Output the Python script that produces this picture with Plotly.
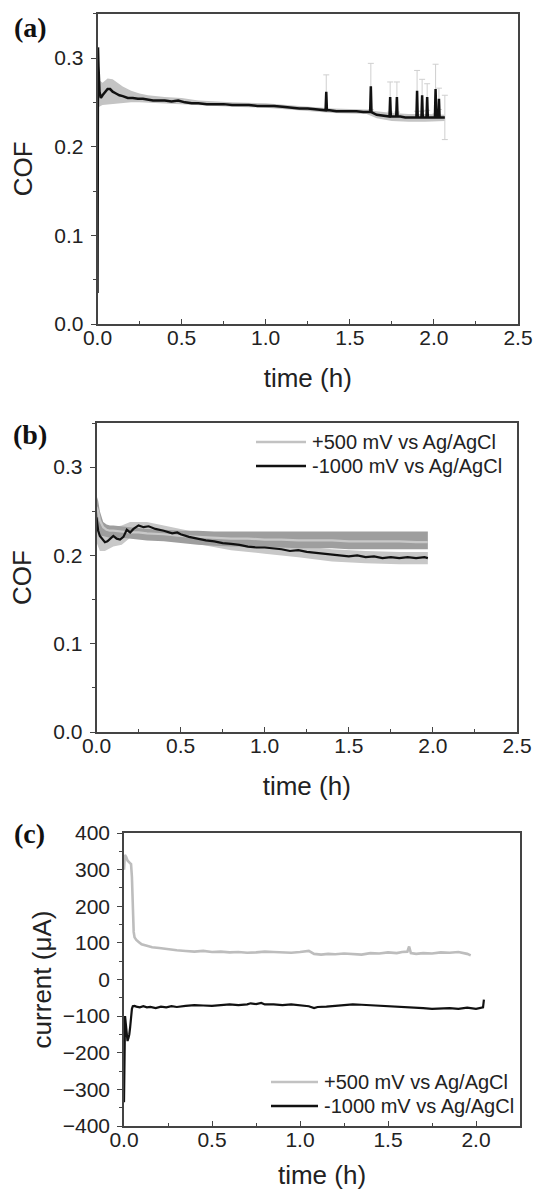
import plotly.graph_objects as go

W, H = 538, 1190
FONT = "Liberation Sans, Arial, sans-serif"
SERIF = "Liberation Serif, Times New Roman, serif"

# ---------------- Panel (a): COF vs time ----------------
t_a = [0.000, 0.003, 0.006, 0.012, 0.020, 0.030, 0.045, 0.060, 0.075, 0.090, 0.110, 0.130,
       0.150, 0.180, 0.210, 0.240, 0.270, 0.300, 0.330, 0.360, 0.400, 0.440, 0.480, 0.520,
       0.560, 0.600, 0.650, 0.700, 0.750, 0.800, 0.850, 0.900, 0.950, 1.000, 1.050, 1.100,
       1.150, 1.200, 1.250, 1.300, 1.340, 1.356, 1.360, 1.364, 1.380, 1.420, 1.460, 1.500,
       1.540, 1.580, 1.621, 1.625, 1.629, 1.660, 1.690, 1.720, 1.736, 1.740, 1.744, 1.776,
       1.780, 1.784, 1.800, 1.830, 1.860, 1.896, 1.900, 1.904, 1.926, 1.930, 1.934, 1.956,
       1.960, 1.964, 1.985, 2.006, 2.010, 2.014, 2.026, 2.030, 2.034, 2.050, 2.065]
cof_a = [0.035, 0.312, 0.290, 0.262, 0.255, 0.258, 0.262, 0.265, 0.265, 0.262, 0.260, 0.258,
         0.257, 0.255, 0.255, 0.254, 0.254, 0.253, 0.252, 0.252, 0.252, 0.251, 0.252, 0.250,
         0.249, 0.249, 0.248, 0.248, 0.248, 0.247, 0.247, 0.247, 0.246, 0.246, 0.246, 0.245,
         0.244, 0.243, 0.243, 0.242, 0.241, 0.241, 0.262, 0.241, 0.241, 0.240, 0.240, 0.240,
         0.240, 0.239, 0.239, 0.268, 0.239, 0.236, 0.235, 0.234, 0.234, 0.256, 0.234, 0.234,
         0.256, 0.234, 0.234, 0.233, 0.233, 0.233, 0.263, 0.233, 0.233, 0.258, 0.233, 0.233,
         0.256, 0.233, 0.233, 0.233, 0.265, 0.233, 0.233, 0.254, 0.233, 0.233, 0.233]
# standard-deviation band of (a)
t_band_a = [0.003, 0.010, 0.030, 0.060, 0.090, 0.120, 0.150, 0.200, 0.250, 0.300, 0.400, 0.500,
            0.600, 0.800, 1.000, 1.200, 1.400, 1.600, 1.660, 1.750, 1.850, 1.950, 2.065]
band_hi_a = [0.300, 0.275, 0.272, 0.277, 0.276, 0.272, 0.268, 0.263, 0.260, 0.258, 0.256, 0.255,
             0.252, 0.250, 0.249, 0.246, 0.243, 0.242, 0.240, 0.238, 0.237, 0.237, 0.236]
band_lo_a = [0.245, 0.245, 0.247, 0.248, 0.248, 0.249, 0.249, 0.250, 0.250, 0.250, 0.249, 0.248,
             0.247, 0.245, 0.244, 0.241, 0.238, 0.237, 0.232, 0.229, 0.228, 0.228, 0.229]
# error bars at the friction spikes
t_err_a = [1.360, 1.625, 1.740, 1.780, 1.900, 1.930, 1.960, 2.010, 2.030, 2.065]
cof_err_a = [0.262, 0.268, 0.256, 0.256, 0.263, 0.258, 0.256, 0.265, 0.254, 0.233]
err_a = [0.019, 0.026, 0.017, 0.017, 0.023, 0.018, 0.015, 0.028, 0.012, 0.025]

# ---------------- Panel (b): COF vs time, two potentials ----------------
names = ["+500 mV vs Ag/AgCl", "-1000 mV vs Ag/AgCl"]

t_b_pos = [0.000, 0.010, 0.020, 0.040, 0.060, 0.080, 0.100, 0.150, 0.200, 0.250, 0.300, 0.400,
           0.500, 0.600, 0.700, 0.800, 0.900, 1.000, 1.100, 1.200, 1.300, 1.400, 1.500, 1.600,
           1.700, 1.800, 1.900, 1.970]
cof_b_pos = [0.255, 0.250, 0.240, 0.232, 0.229, 0.228, 0.228, 0.227, 0.226, 0.226, 0.225, 0.224,
             0.222, 0.221, 0.220, 0.219, 0.219, 0.218, 0.218, 0.217, 0.217, 0.217, 0.216, 0.216,
             0.216, 0.216, 0.215, 0.215]
band_hi_b_pos = [0.268, 0.262, 0.250, 0.238, 0.235, 0.234, 0.234, 0.233, 0.232, 0.231, 0.230, 0.229,
                 0.228, 0.228, 0.227, 0.227, 0.227, 0.227, 0.227, 0.227, 0.227, 0.227, 0.227, 0.227,
                 0.227, 0.227, 0.227, 0.227]
band_lo_b_pos = [0.232, 0.225, 0.222, 0.222, 0.221, 0.220, 0.220, 0.220, 0.219, 0.218, 0.217, 0.216,
                 0.214, 0.212, 0.211, 0.210, 0.210, 0.209, 0.209, 0.208, 0.208, 0.208, 0.207, 0.207,
                 0.207, 0.207, 0.207, 0.207]

t_b_neg = [0.000, 0.010, 0.020, 0.035, 0.050, 0.065, 0.080, 0.100, 0.120, 0.140, 0.160, 0.180,
           0.200, 0.220, 0.250, 0.280, 0.310, 0.350, 0.400, 0.450, 0.480, 0.500, 0.550, 0.600,
           0.650, 0.700, 0.750, 0.800, 0.850, 0.900, 0.950, 1.000, 1.050, 1.100, 1.150, 1.200,
           1.250, 1.300, 1.350, 1.400, 1.450, 1.500, 1.550, 1.600, 1.650, 1.700, 1.750, 1.800,
           1.850, 1.900, 1.950, 1.970]
cof_b_neg = [0.243, 0.228, 0.222, 0.218, 0.215, 0.216, 0.219, 0.222, 0.219, 0.218, 0.221, 0.229,
             0.226, 0.230, 0.234, 0.232, 0.233, 0.230, 0.228, 0.225, 0.226, 0.224, 0.221, 0.219,
             0.217, 0.216, 0.214, 0.213, 0.212, 0.210, 0.209, 0.209, 0.208, 0.207, 0.205, 0.206,
             0.204, 0.203, 0.202, 0.201, 0.200, 0.199, 0.200, 0.198, 0.199, 0.197, 0.198, 0.197,
             0.198, 0.197, 0.198, 0.197]
t_band_b_neg = [0.000, 0.020, 0.050, 0.100, 0.150, 0.200, 0.300, 0.400, 0.500, 0.600, 0.800, 1.000,
                1.200, 1.400, 1.600, 1.800, 1.970]
band_hi_b_neg = [0.265, 0.240, 0.232, 0.232, 0.234, 0.238, 0.238, 0.234, 0.230, 0.226, 0.220, 0.215,
                 0.211, 0.207, 0.205, 0.204, 0.204]
band_lo_b_neg = [0.215, 0.205, 0.205, 0.210, 0.212, 0.220, 0.224, 0.220, 0.218, 0.213, 0.206, 0.202,
                 0.198, 0.193, 0.191, 0.190, 0.190]

# ---------------- Panel (c): current vs time ----------------
t_c_pos = [0.000, 0.005, 0.012, 0.020, 0.030, 0.040, 0.045, 0.050, 0.055, 0.060, 0.070, 0.085,
           0.100, 0.130, 0.160, 0.200, 0.250, 0.300, 0.350, 0.400, 0.450, 0.500, 0.550, 0.600,
           0.650, 0.700, 0.750, 0.800, 0.850, 0.900, 0.950, 1.000, 1.050, 1.080, 1.120, 1.160,
           1.200, 1.250, 1.300, 1.350, 1.400, 1.450, 1.500, 1.550, 1.580, 1.610, 1.620, 1.630,
           1.660, 1.700, 1.750, 1.800, 1.850, 1.900, 1.950, 1.970]
i_c_pos = [300, 340, 335, 325, 320, 315, 280, 200, 130, 115, 108, 102,
           96, 92, 88, 86, 82, 80, 78, 76, 78, 75, 76, 74,
           75, 73, 74, 76, 75, 74, 73, 75, 78, 70, 68, 70,
           69, 71, 70, 68, 72, 71, 74, 72, 75, 76, 90, 72,
           70, 72, 71, 74, 73, 75, 70, 66]

t_c_neg = [0.000, 0.003, 0.006, 0.010, 0.015, 0.020, 0.025, 0.030, 0.035, 0.040, 0.045, 0.050,
           0.060, 0.070, 0.090, 0.110, 0.130, 0.150, 0.180, 0.210, 0.240, 0.270, 0.300, 0.350,
           0.400, 0.450, 0.500, 0.550, 0.600, 0.650, 0.700, 0.720, 0.750, 0.780, 0.800, 0.850,
           0.900, 0.950, 1.000, 1.050, 1.080, 1.100, 1.150, 1.200, 1.250, 1.300, 1.350, 1.400,
           1.450, 1.500, 1.550, 1.600, 1.650, 1.700, 1.750, 1.800, 1.850, 1.900, 1.950, 2.000,
           2.030, 2.040, 2.045]
i_c_neg = [-335, -150, -100, -120, -160, -168, -160, -150, -130, -100, -80, -73,
           -72, -74, -76, -73, -76, -75, -78, -74, -76, -73, -75, -72,
           -70, -71, -72, -70, -68, -70, -68, -65, -67, -64, -68, -68,
           -70, -68, -70, -73, -78, -75, -74, -72, -70, -68, -69, -70,
           -72, -73, -75, -74, -76, -78, -80, -79, -78, -80, -77, -80,
           -78, -76, -55]

# ---------------- layout helpers ----------------
def fx(px):
    return px / W


def fy(py):
    return 1 - py / H


LINE_COL = "#444444"
TXT_COL = "#222222"
POS_COL = "#c2c2c2"
NEG_COL = "#111111"

fig = go.Figure()

# (a)
fig.add_trace(go.Scatter(x=t_band_a + t_band_a[::-1], y=band_hi_a + band_lo_a[::-1],
                         fill="toself", fillcolor="#c4c4c4", line=dict(width=0),
                         mode="lines", showlegend=False, hoverinfo="skip",
                         xaxis="x", yaxis="y"))
fig.add_trace(go.Scatter(x=t_err_a, y=cof_err_a, mode="markers",
                         marker=dict(size=1, color="rgba(0,0,0,0)"),
                         error_y=dict(type="data", array=err_a, color="#cfcfcf",
                                      thickness=1, width=3),
                         showlegend=False, xaxis="x", yaxis="y"))
fig.add_trace(go.Scatter(x=t_a, y=cof_a, mode="lines", line=dict(color=NEG_COL, width=2.5),
                         showlegend=False, xaxis="x", yaxis="y"))

# (b)
fig.add_trace(go.Scatter(x=t_band_b_neg + t_band_b_neg[::-1],
                         y=band_hi_b_neg + band_lo_b_neg[::-1],
                         fill="toself", fillcolor="#c8c8c8", line=dict(width=0),
                         mode="lines", showlegend=False, hoverinfo="skip",
                         xaxis="x2", yaxis="y2"))
fig.add_trace(go.Scatter(x=t_b_pos + t_b_pos[::-1],
                         y=band_hi_b_pos + band_lo_b_pos[::-1],
                         fill="toself", fillcolor="#9e9e9e", line=dict(width=0),
                         mode="lines", showlegend=False, hoverinfo="skip",
                         xaxis="x2", yaxis="y2"))
fig.add_trace(go.Scatter(x=t_b_pos, y=cof_b_pos, mode="lines", name=names[0],
                         line=dict(color="#c8c8c8", width=2.2), showlegend=False,
                         xaxis="x2", yaxis="y2"))
fig.add_trace(go.Scatter(x=t_b_neg, y=cof_b_neg, mode="lines", name=names[1],
                         line=dict(color=NEG_COL, width=2.2), showlegend=False,
                         xaxis="x2", yaxis="y2"))

# (c)
fig.add_trace(go.Scatter(x=t_c_pos, y=i_c_pos, mode="lines", name=names[0],
                         line=dict(color="#bdbdbd", width=2.6), showlegend=False,
                         xaxis="x3", yaxis="y3"))
fig.add_trace(go.Scatter(x=t_c_neg, y=i_c_neg, mode="lines", name=names[1],
                         line=dict(color=NEG_COL, width=2.2), showlegend=False,
                         xaxis="x3", yaxis="y3"))

common = dict(showline=True, linecolor=LINE_COL, linewidth=1.5, mirror=True,
              showgrid=False, zeroline=False, automargin=False,
              tickfont=dict(family=FONT, size=21, color=TXT_COL),
              ticklen=5, tickwidth=1.2, tickcolor=LINE_COL,
              title_font=dict(family=FONT, size=26, color=TXT_COL))


def xax(dom, rng, anchor):
    return dict(common, domain=dom, range=rng, anchor=anchor, ticks="inside",
                tick0=0, dtick=0.5, tickformat=".1f", ticklabelstandoff=-6,
                minor=dict(ticks="inside", dtick=0.25, tick0=0, ticklen=3,
                           tickcolor=LINE_COL, tickwidth=1),
                title=dict(text="time (h)", standoff=21))


def yax(dom, rng, anchor, dt, mdt, fmt, title, standoff):
    return dict(common, domain=dom, range=rng, anchor=anchor, ticks="outside",
                tick0=0, dtick=dt, tickformat=fmt, ticklabelstandoff=3,
                minor=dict(ticks="outside", dtick=mdt, tick0=0, ticklen=3,
                           tickcolor=LINE_COL, tickwidth=1),
                title=dict(text=title, standoff=standoff))


fig.update_layout(
    width=W, height=H, margin=dict(l=0, r=0, t=0, b=0, pad=0),
    template="none", paper_bgcolor="white", plot_bgcolor="white",
    font=dict(family=FONT, color=TXT_COL), showlegend=False,
    xaxis=xax([fx(97.5), fx(518)], [0, 2.5], "y"),
    yaxis=yax([fy(324), fy(13.7)], [0, 0.35], "x", 0.1, 0.05, ".1f", "COF", 14),
    xaxis2=xax([fx(96.5), fx(517)], [0, 2.5], "y2"),
    yaxis2=yax([fy(732), fy(423)], [0, 0.35], "x2", 0.1, 0.05, ".1f", "COF", 14),
    xaxis3=xax([fx(124), fx(520)], [0, 2.25], "y3"),
    yaxis3=yax([fy(1126), fy(833)], [-400, 400], "x3", 100, 50, "d", "current (μA)", 4),
)

# legends drawn as line samples + text (panels b and c)
legend_rows = [
    (names[0], POS_COL, 256, 306, 310, 442),
    (names[1], NEG_COL, 256, 306, 310, 466),
    (names[0], POS_COL, 271, 318, 322, 1082),
    (names[1], NEG_COL, 271, 318, 322, 1106),
]
for txt, col, x0, x1, xt, yr in legend_rows:
    fig.add_shape(type="line", xref="paper", yref="paper", x0=fx(x0), x1=fx(x1),
                  y0=fy(yr), y1=fy(yr), line=dict(color=col, width=2.6))
    fig.add_annotation(text=txt, x=fx(xt), y=fy(yr), xref="paper", yref="paper",
                       xanchor="left", yanchor="middle", showarrow=False,
                       font=dict(family=FONT, size=20, color=TXT_COL))

for lbl, x0, y0 in [("(a)", 12, 27), ("(b)", 11, 434), ("(c)", 12, 833)]:
    fig.add_annotation(text="<b>%s</b>" % lbl, x=fx(x0), y=fy(y0), xref="paper", yref="paper",
                       xanchor="left", yanchor="middle", showarrow=False,
                       font=dict(family=SERIF, size=28, color="#111111"))

fig.write_html("out.html")
